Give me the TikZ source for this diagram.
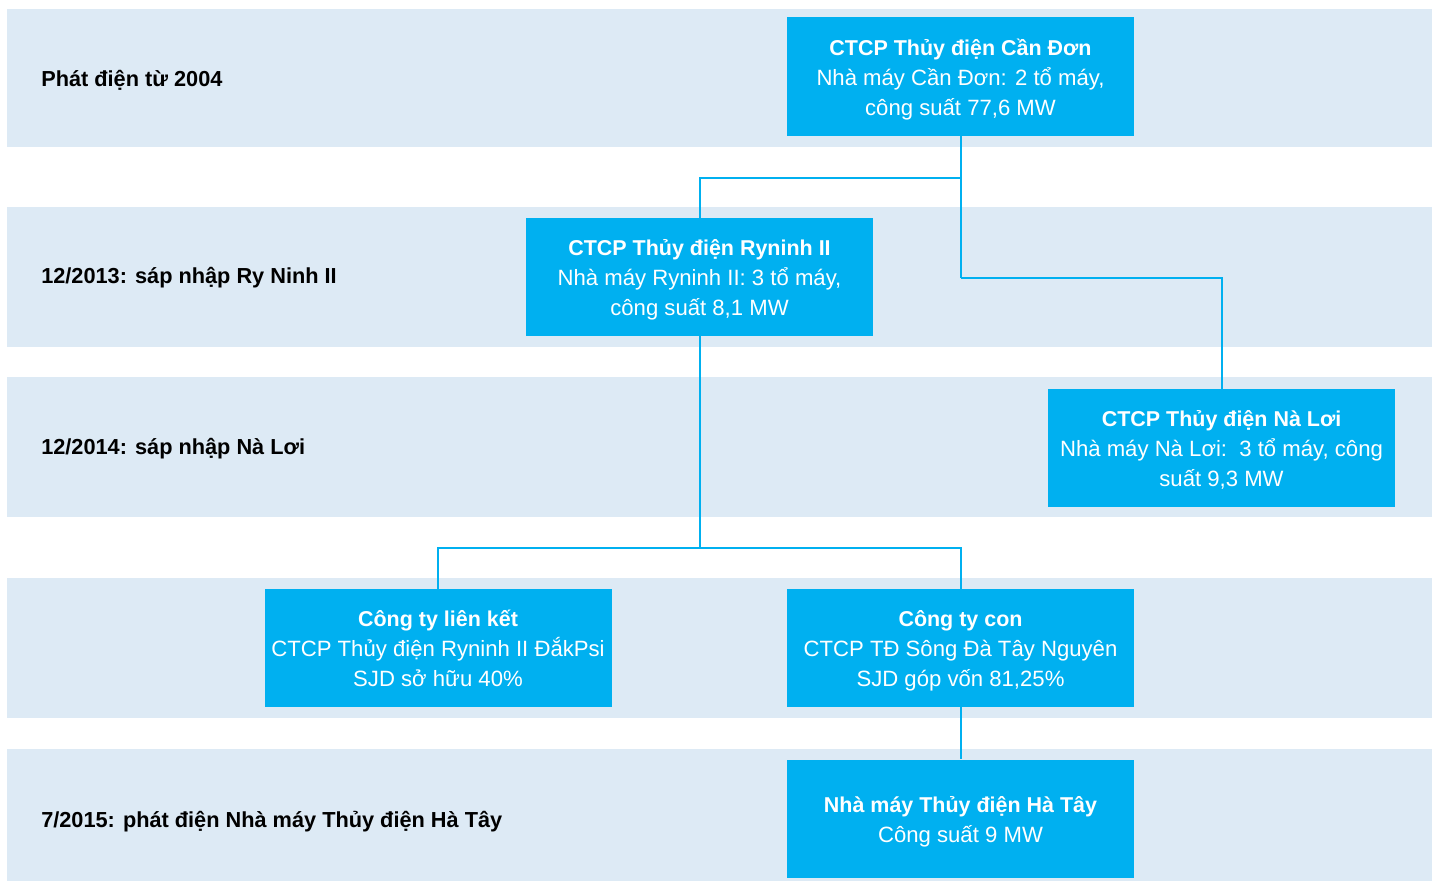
\documentclass[tikz,border=0pt]{standalone}
\usepackage{fontspec}
\setmainfont{Liberation Sans}
\usetikzlibrary{positioning}
\definecolor{bandblue}{HTML}{DDEAF5}
\definecolor{boxblue}{HTML}{00B0F0}
\tikzstyle{every node}=[font=\fontsize{16.6}{22.5}\selectfont,inner sep=0pt]
\tikzstyle{band}=[fill=bandblue,draw=none]
\tikzstyle{period}=[anchor=west,font=\fontsize{16.3}{22.5}\selectfont\bfseries,text=black]
\tikzstyle{company}=[fill=boxblue,text=white,align=center,minimum width=260.25pt,minimum height=88.5pt,
    text height=62.75pt,text depth=5pt]
\tikzstyle{link}=[draw=boxblue,line width=1.5pt]
\newcommand{\boxhead}[1]{{\fontsize{16.1}{22.5}\selectfont\bfseries #1}}

\begin{document}
\begin{tikzpicture}[x=0.75pt,y=-0.75pt]
    \useasboundingbox (0,0) rectangle (1437,881);
    % time bands
    \fill[band] (7,9) rectangle (1432,147);
    \fill[band] (7,207) rectangle (1432,347);
    \fill[band] (7,377) rectangle (1432,517);
    \fill[band] (7,578) rectangle (1432,718);
    \fill[band] (7,749) rectangle (1432,881);
    \node[period] (p2004) at (41,80) {Phát điện từ 2004};
    \node[period] (p2013) at (41,278) {12/2013: sáp nhập Ry Ninh II};
    \node[period] (p2014) at (41,449) {12/2014: sáp nhập Nà Lơi};
    \node[period] (p2015) at (41,822) {7/2015: phát điện Nhà máy Thủy điện Hà Tây};
    % companies
    \node[company] (candon) at (960.5,76.5) {\boxhead{CTCP Thủy điện Cần Đơn}\\Nhà máy Cần Đơn: 2 tổ máy,\\công suất 77,6 MW};
    \node[company] (ryninh) at (699.5,277) {\boxhead{CTCP Thủy điện Ryninh II}\\Nhà máy Ryninh II: 3 tổ máy,\\công suất 8,1 MW};
    \node[company] (naloi) at (1221.5,448) {\boxhead{CTCP Thủy điện Nà Lơi}\\Nhà máy Nà Lơi:\ \ 3 tổ máy, công\\suất 9,3 MW};
    \node[company] (lienket) at (438,648) {\boxhead{Công ty liên kết}\\CTCP Thủy điện Ryninh II ĐắkPsi\\SJD sở hữu 40\%};
    \node[company] (con) at (960.5,648) {\boxhead{Công ty con}\\CTCP TĐ Sông Đà Tây Nguyên\\SJD góp vốn 81,25\%};
    \node[company,text height=40.25pt] (hatay) at (960.5,818.5) {\boxhead{Nhà máy Thủy điện Hà Tây}\\Công suất 9 MW};
    % connectors
    \coordinate (j1) at (candon.south |- 0,178);
    \coordinate (j2) at (candon.south |- 0,278);
    \coordinate (j3) at (ryninh.south |- 0,548);
    \draw[link] (candon.south) -- (j2);
    \draw[link] (j1) -| (ryninh.north);
    \draw[link] (j2) -| (naloi.north);
    \draw[link] (ryninh.south) -- (j3);
    \draw[link] (j3) -| (lienket.north);
    \draw[link] (j3) -| (con.north);
    \draw[link] (con.south) -- (hatay.north);
\end{tikzpicture}
\end{document}
